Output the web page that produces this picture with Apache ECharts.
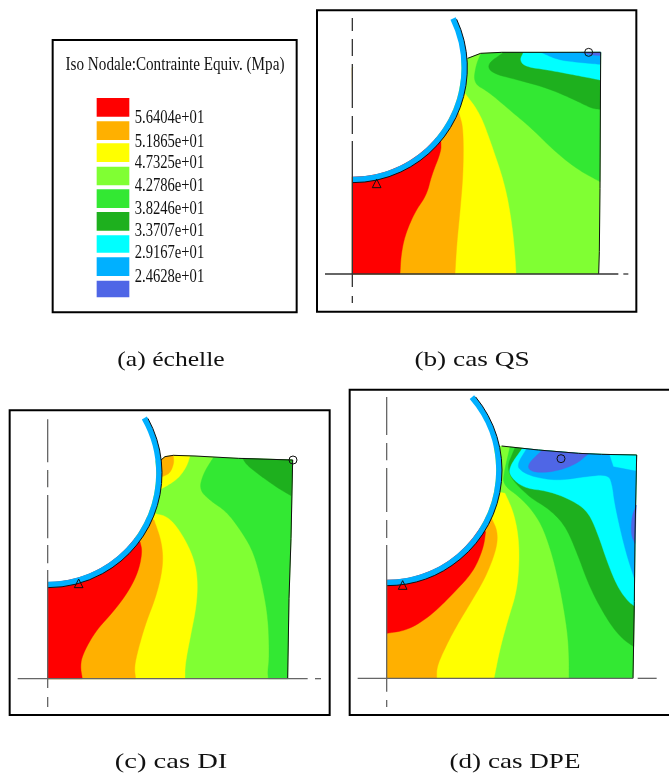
<!DOCTYPE html>
<html><head><meta charset="utf-8">
<style>html,body{margin:0;padding:0;background:#fff}#c{width:669px;height:776px}</style>
<script src="https://cdn.jsdelivr.net/npm/echarts@6/dist/echarts.min.js"></script>
</head><body><div id="c"></div>
<script>
// ---- scale (stress levels) ----
const levelLabels = ['5.6404e+01','5.1865e+01','4.7325e+01','4.2786e+01','3.8246e+01','3.3707e+01','2.9167e+01','2.4628e+01'];
const legendTitle = 'Iso Nodale:Contrainte Equiv. (Mpa)';
const captions = ['(a) échelle','(b) cas QS','(c) cas DI','(d) cas DPE'];
const swatchRows = [[204,260],[274,330],[340,396],[410,466],[478,534],[546,602],[616,668],[682,738],[752,802]];
const labelRows = [265,335,400,468,537,602,670,742];

// ---- contour bands: cas QS ----
const qsBody=[[112,807],[851,807],[853,740],[855,550],[857,142],[560,142],[497,145],[458,160],[112,188]];
const qsGreen=[[497,147],[483,180],[475,235],[520,260],[590,320],[650,370],[720,440],[790,495],[855,530],[857,142],[560,142]];
const qsDark=[[565,143],[516,177],[530,205],[610,225],[700,250],[780,285],[830,310],[855,313],[857,142]];
const qsCyan=[[625,143],[614,165],[630,185],[700,195],[790,212],[855,225],[857,142]];
const qsSky=[[680,143],[730,165],[790,172],[855,178],[857,142]];
const qsBlue=[[800,142],[830,150],[856,152],[857,142]];
const qsYellow=[[450,265],[495,325],[530,420],[570,540],[590,650],[600,750],[603,807],[112,807],[112,188]];
const qsOrange=[[432,325],[445,370],[445,500],[435,620],[425,720],[420,807],[112,807],[112,188]];
const qsRed=[[378,410],[378,440],[350,510],[335,570],[300,620],[270,690],[258,750],[255,807],[112,807],[112,188]];
const qsEdge=[[851,807],[853,740],[855,550],[857,142],[560,142],[497,145],[458,160]];

// ---- cas DI ----
const diBody=[[128,821],[848,821],[852,580],[858,400],[863,165],[700,160],[570,153],[505,151],[480,155],[468,165],[128,205]];
const diGreen=[[625,158],[595,205],[582,255],[620,290],[665,320],[710,380],[745,440],[770,530],[790,640],[793,760],[788,800],[790,821],[848,821],[852,580],[858,400],[863,165]];
const diDark=[[713,160],[725,180],[770,215],[820,250],[858,272],[863,165]];
const diPatchY=[[555,153],[545,185],[520,220],[490,240],[468,252],[440,200],[468,165],[480,155],[505,151]];
const diPatchO=[[505,151],[507,175],[495,205],[472,215],[440,200],[468,165],[480,155]];
const diYellow=[[445,325],[490,335],[530,385],[565,455],[578,520],[575,600],[555,700],[540,780],[540,821],[128,821],[128,205]];
const diOrange=[[447,345],[470,410],[475,480],[455,570],[420,660],[395,750],[388,790],[392,821],[128,821],[128,205]];
const diRed=[[405,410],[412,440],[400,500],[370,560],[325,620],[270,680],[232,750],[226,785],[232,821],[128,821],[128,205]];
const diEdge=[[848,821],[852,580],[858,400],[863,165],[700,160],[570,153],[505,151],[480,155],[468,165]];

// ---- cas DPE ----
const dpBody=[[125,880],[864,880],[868,650],[870,450],[875,210],[770,208],[700,205],[580,195],[470,183],[125,256]];
const dpGreen=[[495,186],[478,258],[473,300],[530,340],[580,400],[610,470],[640,580],[665,720],[672,800],[672,880],[864,880],[868,650],[870,450],[875,210],[770,208],[700,205],[580,195]];
const dpDark=[[510,188],[480,260],[550,335],[610,370],[660,420],[695,500],[735,610],[790,710],[830,760],[866,785],[868,650],[870,450],[875,210],[770,208],[700,205],[580,195]];
const dpCyan=[[532,190],[490,250],[500,280],[540,310],[610,318],[680,345],[730,380],[760,450],[790,540],[820,610],[850,650],[868,663],[870,450],[875,210],[770,208],[700,205],[580,195]];
const dpSky=[[545,191],[515,240],[530,260],[570,277],[640,287],[720,275],[790,268],[802,300],[808,350],[825,430],[845,510],[868,580],[870,450],[872,258],[830,250],[805,245],[793,209],[700,205],[580,195]];
const dpBlueTop=[[590,197],[545,240],[560,262],[620,262],[690,240],[730,207],[700,205]];
const dpBlueSide=[[874,360],[860,395],[858,450],[870,475]];
const dpYellow=[[480,325],[505,380],[520,450],[523,530],[515,620],[490,700],[465,790],[447,880],[125,880],[125,256]];
const dpOrange=[[440,400],[458,440],[455,490],[425,570],[385,640],[330,730],[290,810],[275,850],[275,880],[125,880],[125,256]];
const dpRed=[[422,440],[415,490],[385,560],[330,620],[260,690],[190,735],[125,745],[125,256]];
const dpEdge=[[864,880],[868,650],[870,450],[875,210],[770,208],[700,205],[580,195],[470,183]];

// band: level key, outline, number of leading outline points that form the curved iso-line
const bands={
 b:[['L',qsBody,0],['G',qsGreen,9],['D',qsDark,8],['C',qsCyan,6],['S',qsSky,4],['B',qsBlue,3],['Y',qsYellow,7],['O',qsOrange,6],['R',qsRed,8]],
 c:[['L',diBody,0],['G',diGreen,12],['D',diDark,5],['Y',diPatchY,5],['O',diPatchO,4],['Y',diYellow,9],['O',diOrange,8],['R',diRed,9]],
 d:[['L',dpBody,0],['G',dpGreen,10],['D',dpDark,10],['C',dpCyan,12],['S',dpSky,12],['B',dpBlueTop,6],['B',dpBlueSide,4],['Y',dpYellow,8],['O',dpOrange,9],['R',dpRed,7]]
};
const edges={b:qsEdge,c:diEdge,d:dpEdge};
const holes={b:[112,188,345,-0.454],c:[128,205,343,-0.52],d:[125,256,346,-0.71]};
const trianglePts={b:[185,522],c:[221,522],d:[173,587]};
const circlePts={b:[821,142],c:[864,165],d:[648,221]};
const horizLines={b:[[30,910,807],[925,940,807]],c:[[38,908,821],[930,948,821]],d:[[38,864,880],[878,935,880]]};
const vertLines={
 b:[[112,39,78],[112,102,153],[112,177,309],[112,333,387],[112,408,846],[112,873,894]],
 c:[[128,43,172],[128,195,247],[128,270,400],[128,420,475],[128,495,849],[128,876,906]],
 d:[[125,36,150],[125,174,226],[125,249,381],[125,405,459],[125,480,920],[125,945,966]]
};
const frames={a:[38,30,770,847],b:[6,16,964,920],c:[14,16,974,930],d:[14,14,985,990]};
const crops={a:[40,30,270,290],b:[315,5,325,310],c:[5,405,330,315],d:[345,385,324,335]};

// ---- styling ----
const palette={R:'#ff0000',O:'#ffb000',Y:'#ffff00',L:'#80ff33',G:'#33e833',D:'#1eb01e',C:'#00ffff',S:'#00b0ff',B:'#4f66e6'};
const paletteList=['R','O','Y','L','G','D','C','S','B'].map(k=>palette[k]);
const ink='#111';
const axisInk={b:'#333',c:'#666',d:'#666'};

const panels=['a','b','c','d'];
const grid=panels.map(p=>({left:crops[p][0],top:crops[p][1],width:crops[p][2],height:crops[p][3],show:false}));
const xAxis=panels.map((p,i)=>({gridIndex:i,type:'value',min:0,max:crops[p][2]*3,show:false}));
const yAxis=panels.map((p,i)=>({gridIndex:i,type:'value',min:0,max:crops[p][3]*3,inverse:true,show:false}));

function shapePts(api,pts){return pts.map(q=>api.coord(q));}
// corner-cutting of the iso-line part only, as a drawing smoother
function rounded(pts,n){
  if(n<3) return pts;
  let cur=pts.slice(0,n);
  for(let k=0;k<3;k++){
    const out=[cur[0]];
    for(let i=0;i<cur.length-1;i++){
      const a=cur[i],b=cur[i+1];
      out.push([a[0]*.75+b[0]*.25,a[1]*.75+b[1]*.25],[a[0]*.25+b[0]*.75,a[1]*.25+b[1]*.75]);
    }
    out.push(cur[cur.length-1]);
    cur=out;
  }
  return cur.concat(pts.slice(n));
}
function plot(p,api){
  const children=[];
  const line=(pts,stroke,w)=>children.push({type:'polyline',shape:{points:shapePts(api,pts)},style:{stroke,lineWidth:w,fill:null},silent:true});
  const fr=frames[p];
  const a=api.coord([fr[0],fr[1]]),b=api.coord([fr[2],fr[3]]);
  if(p==='a'){
    swatchRows.forEach((r,i)=>{
      const t=api.coord([170,r[0]]),e=api.coord([268,r[1]]);
      children.push({type:'rect',shape:{x:t[0],y:t[1],width:e[0]-t[0],height:e[1]-t[1]},style:{fill:paletteList[i]}});
    });
    labelRows.forEach((y,i)=>{
      const t=api.coord([284,y]);
      children.push({type:'text',x:t[0],y:t[1],scaleX:0.79,style:{text:levelLabels[i],fill:ink,font:'18.5px "Liberation Serif"',align:'left',verticalAlign:'middle'}});
    });
    const t=api.coord([405,104]);
    children.push({type:'text',x:t[0],y:t[1],scaleX:0.82,style:{text:legendTitle,fill:ink,font:'18.5px "Liberation Serif"',align:'center',verticalAlign:'middle'}});
  } else {
    bands[p].forEach(bd=>children.push({type:'polygon',shape:{points:shapePts(api,rounded(bd[1],bd[2]))},style:{fill:palette[bd[0]],stroke:palette[bd[0]],lineWidth:0.4}}));
    const h=holes[p],c=api.coord([h[0],h[1]]),r=api.size([h[2],h[2]])[0],ri=r-5.8;
    children.push({type:'sector',shape:{cx:c[0],cy:c[1],r0:0,r:ri,startAngle:h[3],endAngle:Math.PI/2+0.05,clockwise:true},style:{fill:'#fff'}});
    children.push({type:'sector',shape:{cx:c[0],cy:c[1],r0:ri,r:r,startAngle:h[3],endAngle:Math.PI/2,clockwise:true},style:{fill:palette.S}});
    children.push({type:'arc',shape:{cx:c[0],cy:c[1],r:r,startAngle:h[3]+0.02,endAngle:Math.PI/2,clockwise:true},style:{stroke:ink,lineWidth:1,fill:null}});
    line(edges[p],ink,1);
    horizLines[p].forEach(s=>line([[s[0],s[2]],[s[1],s[2]]],axisInk[p],1.3));
    vertLines[p].forEach(s=>line([[s[0],s[1]],[s[0],s[2]]],axisInk[p],1.3));
    const tr=trianglePts[p];
    children.push({type:'polygon',shape:{points:shapePts(api,[tr,[tr[0]-13,tr[1]+26],[tr[0]+13,tr[1]+26]])},style:{fill:null,stroke:ink,lineWidth:1}});
    const ci=circlePts[p],cc=api.coord(ci);
    children.push({type:'circle',shape:{cx:cc[0],cy:cc[1],r:api.size([12,12])[0]},style:{fill:null,stroke:ink,lineWidth:1}});
  }
  children.push({type:'rect',shape:{x:a[0],y:a[1],width:b[0]-a[0],height:b[1]-a[1]},style:{fill:null,stroke:'#000',lineWidth:2}});
  return {type:'group',children};
}
const series=panels.map((p,i)=>({type:'custom',xAxisIndex:i,yAxisIndex:i,coordinateSystem:'cartesian2d',clip:false,silent:true,data:[[0,0]],
  renderItem:(params,api)=>plot(p,api)}));

const captionPos=[[171,360],[472,360],[171,762],[515,762]];
const captionStretch=[1.22,1.3,1.36,1.29];
const chart=echarts.init(document.getElementById('c'),null,{renderer:'canvas'});
chart.setOption({animation:false,backgroundColor:'#fff',grid,xAxis,yAxis,series,
  graphic:captions.map((t,i)=>({type:'text',x:captionPos[i][0],y:captionPos[i][1],scaleX:captionStretch[i],silent:true,
    style:{text:t,fill:'#111',font:'21px "Liberation Serif"',textAlign:'center',textVerticalAlign:'middle'}}))
});
</script></body></html>
